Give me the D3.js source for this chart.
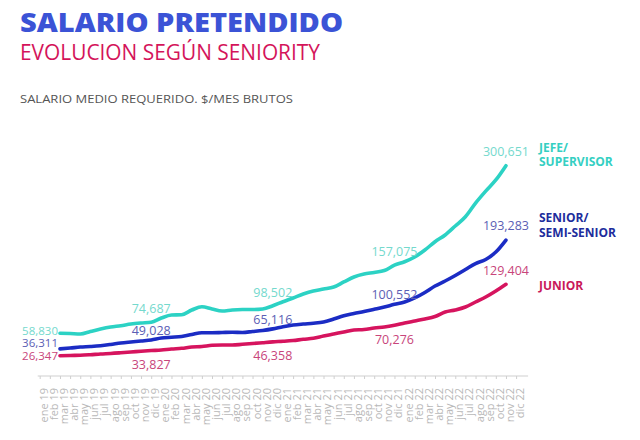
<!DOCTYPE html>
<html>
<head>
<meta charset="utf-8">
<script src="https://cdn.jsdelivr.net/npm/d3@7"></script>
<style>
  body { margin: 0; background: #fff; }
  svg { display: block; font-family: "Open Sans", "Noto Sans", sans-serif; }
</style>
</head>
<body>
<div id="chart"></div>
<script>
// month labels on the axis (ene 19 .. dic 22)
const monthNames = ['ene', 'feb', 'mar', 'abr', 'may', 'jun', 'jul', 'ago', 'sep', 'oct', 'nov', 'dic'];
const years = ['19', '20', '21', '22'];
const months = years.flatMap(y => monthNames.map(m => `${m} ${y}`));

// series run from mar 19 to nov 22
const firstMonth = 'mar 19';

const jefe = [58830, 58400, 57700, 61300, 64900, 67800, 69700, 72100, 73600, 74687,
  80800, 85100, 85500, 92300, 97100, 93800, 90900, 92300, 93000, 93000,
  93800, 98502, 104300, 109700, 115400, 119800, 122600, 125500, 132800, 140000,
  144300, 146500, 149300, 157075, 162000, 168800, 178900, 190900, 200600, 213600,
  227000, 246700, 264000, 280000, 300651];

const senior = [36311, 37500, 38900, 39700, 40800, 42600, 44700, 46200, 47600, 49028,
  51900, 53000, 54100, 57000, 59600, 59600, 59900, 60200, 59900, 61300,
  62800, 65116, 68200, 70700, 72100, 73200, 75000, 79400, 84100, 87300,
  90200, 93400, 96700, 100552, 103900, 109700, 117600, 127000, 134200, 142100,
  150800, 159400, 165200, 176000, 193283];

const junior = [26347, 26800, 27000, 27800, 28900, 29600, 30600, 31700, 32900, 33827,
  34600, 36100, 37100, 39000, 39700, 41400, 41800, 41800, 42900, 44000,
  45200, 46358, 47200, 48300, 50100, 51500, 54800, 57700, 60600, 63500,
  64200, 66400, 67800, 70276, 73600, 76500, 79400, 83000, 89500, 92400,
  96700, 103900, 111100, 119800, 129404];

// which points carry a value label
const labeledPoints = [0, 9, 21, 33, 44];

const seriesNames = [['JEFE/', 'SUPERVISOR'], ['SENIOR/', 'SEMI-SENIOR'], ['JUNIOR']];

const width = 640, height = 440;

const series = [
  {values: jefe,   name: seriesNames[0], line: '#2cd2c4', label: '#74d9cd', key: '#35cfc2',
   dy: {0: 1.8, end: -10, mid: -9}, nameY: [151.5, 166]},
  {values: senior, name: seriesNames[1], line: '#1b2cc4', label: '#5c5eb4', key: '#202c9c',
   dy: {0: -2.3, end: -10, mid: -5}, nameY: [222, 237]},
  {values: junior, name: seriesNames[2], line: '#d6145e', label: '#c8457b', key: '#c9185a',
   dy: {0: 3.9, end: -9, mid: 18.5}, nameY: [290]}
];

const svg = d3.select('#chart')
  .append('svg')
    .attr('width', width)
    .attr('height', height);

// headings
svg.append('text')
    .attr('x', 20).attr('y', 32)
    .attr('fill', '#3b53d6')
    .attr('textLength', 323).attr('lengthAdjust', 'spacingAndGlyphs')
    .style('font-size', '26px').style('font-weight', 800)
    .text('SALARIO PRETENDIDO');

svg.append('text')
    .attr('x', 20).attr('y', 60)
    .attr('fill', '#d4145a')
    .attr('textLength', 300).attr('lengthAdjust', 'spacingAndGlyphs')
    .style('font-size', '21px')
    .text('EVOLUCION SEGÚN SENIORITY');

svg.append('text')
    .attr('x', 20).attr('y', 103)
    .attr('fill', '#555')
    .attr('textLength', 273).attr('lengthAdjust', 'spacingAndGlyphs')
    .style('font-size', '11.5px')
    .text('SALARIO MEDIO REQUERIDO. $/MES BRUTOS');

const x = d3.scalePoint()
    .domain(months)
    .range([39.7, 516.1]);

const y = d3.scaleLinear()
    .domain([0, 310000])
    .range([374, 159.2]);

const start = months.indexOf(firstMonth);
const monthAt = i => months[start + i];

// x axis
const axisY = 376;
const gx = svg.append('g')
    .attr('transform', `translate(0,${axisY})`)
    .call(d3.axisBottom(x).tickSize(3).tickSizeOuter(0));

gx.select('.domain').remove();
gx.insert('line', ':first-child')
    .attr('x1', x.range()[0] - 2).attr('x2', x.range()[1] + 12)
    .attr('stroke', '#cfcfcf');
gx.selectAll('.tick line').attr('stroke', '#cfcfcf');
gx.selectAll('.tick text')
    .attr('fill', '#b8b8b8')
    .style('font-size', '11px')
    .style('font-family', '"Open Sans", sans-serif')
    .attr('text-anchor', 'end')
    .attr('transform', 'translate(3.6,0) rotate(-90)')
    .attr('x', -12).attr('y', 0).attr('dy', '0.35em');

// lines
const line = d3.line()
    .x((d, i) => x(monthAt(i)))
    .y(d => y(d))
    .curve(d3.curveMonotoneX);

const fmt = d3.format(',');

series.forEach(s => {
  svg.append('path')
      .datum(s.values)
      .attr('fill', 'none')
      .attr('stroke', s.line)
      .attr('stroke-width', 3.6)
      .attr('stroke-linejoin', 'round')
      .attr('stroke-linecap', 'round')
      .attr('d', line);

  labeledPoints.forEach(i => {
    const last = i === s.values.length - 1;
    const px = x(monthAt(i)), py = y(s.values[i]);
    const t = svg.append('text')
        .attr('fill', s.label)
        .style('font-size', '12.5px')
        .text(fmt(s.values[i]));
    if (i === 0) {
      // first value sits left of the line start, stacked tight
      t.attr('x', px - 2).attr('y', py + s.dy[0]).attr('text-anchor', 'end')
        .style('font-size', '11.5px');
    } else {
      t.attr('x', px).attr('y', py + (last ? s.dy.end : s.dy.mid)).attr('text-anchor', 'middle');
    }
  });

  // series name at the right
  svg.append('text')
      .attr('fill', s.key)
      .style('font-size', '12px').style('font-weight', 700)
      .selectAll('tspan')
      .data(s.name)
      .join('tspan')
        .attr('x', 539)
        .attr('y', (d, i) => s.nameY[i])
        .text(d => d);
});
</script>
</body>
</html>
